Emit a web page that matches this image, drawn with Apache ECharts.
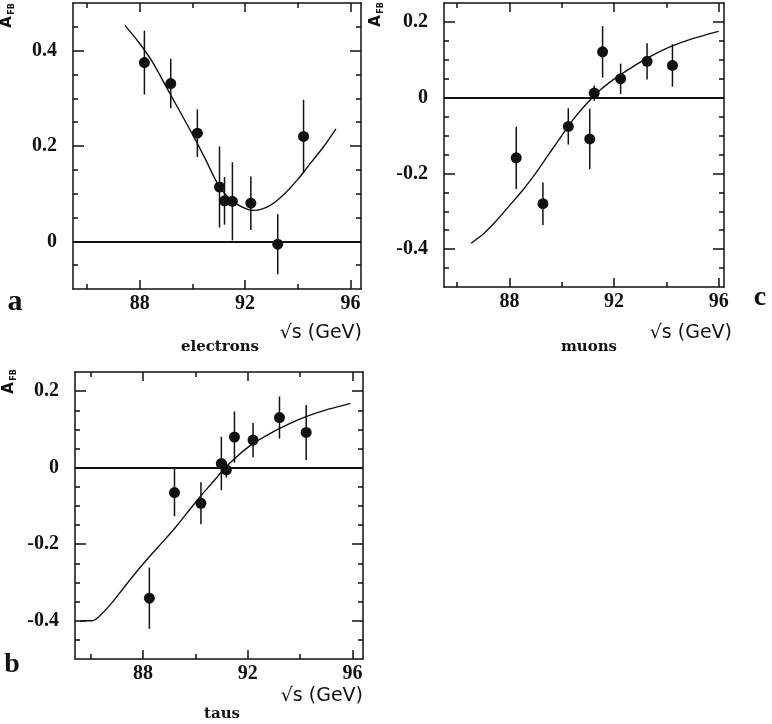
<!DOCTYPE html>
<html>
<head>
<meta charset="utf-8">
<script src="https://cdn.jsdelivr.net/npm/echarts@6/dist/echarts.min.js"></script>
<style>html,body{margin:0;padding:0;background:#fff}#c{width:772px;height:724px}</style>
</head>
<body>
<div id="c"></div>
<script>
// ---------- data ----------
// electrons (panel a)
const eX   = [88.18, 89.18, 90.19, 91.03, 91.22, 91.52, 92.22, 93.24, 94.22];
const eY   = [0.375, 0.331, 0.227, 0.114, 0.085, 0.084, 0.080, -0.006, 0.220];
const eErr = [0.067, 0.052, 0.050, 0.085, 0.050, 0.082, 0.056, 0.063, 0.077];
const eCurveX = [87.44, 88.0, 88.5, 89.0, 89.5, 90.0, 90.5, 91.0, 91.5, 92.0, 92.3, 92.6, 93.0, 93.5, 94.0, 94.5, 95.0, 95.45];
const eCurveY = [0.453, 0.415, 0.375, 0.325, 0.275, 0.225, 0.172, 0.117, 0.085, 0.069, 0.065, 0.067, 0.077, 0.100, 0.130, 0.165, 0.200, 0.236];

// muons (panel c)
const mX   = [88.26, 89.28, 90.25, 91.07, 91.24, 91.56, 92.25, 93.26, 94.23];
const mY   = [-0.159, -0.280, -0.076, -0.109, 0.012, 0.121, 0.050, 0.096, 0.085];
const mErr = [0.082, 0.056, 0.048, 0.080, 0.020, 0.068, 0.040, 0.048, 0.056];
const mCurveX = [86.54, 87.0, 87.5, 88.0, 88.5, 89.0, 89.5, 90.0, 90.5, 91.0, 91.5, 92.0, 92.5, 93.0, 93.5, 94.0, 94.5, 95.0, 95.5, 96.0];
const mCurveY = [-0.384, -0.36, -0.325, -0.285, -0.245, -0.200, -0.150, -0.100, -0.052, -0.012, 0.022, 0.049, 0.072, 0.094, 0.113, 0.130, 0.144, 0.156, 0.166, 0.175];

// taus (panel b)
const tX   = [88.24, 89.20, 90.21, 90.99, 91.18, 91.49, 92.20, 93.21, 94.23];
const tY   = [-0.341, -0.065, -0.093, 0.011, -0.006, 0.080, 0.072, 0.131, 0.092];
const tErr = [0.080, 0.062, 0.055, 0.070, 0.020, 0.067, 0.045, 0.055, 0.072];
const tCurveX = [85.6, 86.05, 86.3, 86.75, 87.25, 87.75, 88.25, 88.75, 89.25, 89.8, 90.25, 90.75, 91.07, 91.5, 92.0, 92.34, 93.0, 93.62, 94.25, 94.9, 95.5, 95.92];
const tCurveY = [-0.400, -0.400, -0.390, -0.358, -0.315, -0.272, -0.232, -0.194, -0.155, -0.108, -0.070, -0.031, -0.005, 0.024, 0.053, 0.069, 0.095, 0.116, 0.134, 0.149, 0.160, 0.168];

// ticks
const xMinorTicks = [86, 90, 94];
const xMajorTicks = [88, 92, 96];
const xLabels = [88, 92, 96];
const yMinorA = [-0.05, 0.05, 0.1, 0.15, 0.25, 0.3, 0.35, 0.45];
const yMajorA = [0, 0.2, 0.4];
const yLabelsA = [0, 0.2, 0.4];
const yMinorB = [-0.45, -0.35, -0.3, -0.25, -0.15, -0.1, -0.05, 0.05, 0.1, 0.15];
const yMajorB = [-0.4, -0.2, 0, 0.2];
const yLabelsB = [-0.4, -0.2, 0, 0.2];

// ---------- chart ----------
const INK = '#111';
const grids = [
  {left: 73, top: 3, width: 288, height: 286},   // a electrons
  {left: 444, top: 3, width: 280, height: 284},  // c muons
  {left: 75, top: 372, width: 288, height: 287}  // b taus
];
const panels = [
  {x: eX, y: eY, err: eErr, cx: eCurveX, cy: eCurveY, xr: [85.47, 96.4], yr: [-0.1, 0.5], yMin: yMinorA, yMaj: yMajorA, yLab: yLabelsA},
  {x: mX, y: mY, err: mErr, cx: mCurveX, cy: mCurveY, xr: [85.5, 96.2], yr: [-0.5, 0.25], yMin: yMinorB, yMaj: yMajorB, yLab: yLabelsB},
  {x: tX, y: tY, err: tErr, cx: tCurveX, cy: tCurveY, xr: [85.4, 96.4], yr: [-0.5, 0.25], yMin: yMinorB, yMaj: yMajorB, yLab: yLabelsB}
];

const xAxis = [], yAxis = [], series = [];
const lineStyle = {color: INK, width: 1.5};
const labelFont = {color: INK, fontFamily: '"Liberation Serif", serif', fontWeight: 'bold', fontSize: 20};

panels.forEach((p, g) => {
  ['bottom', 'top'].forEach(pos => {
    xAxis.push({gridIndex: g, type: 'value', min: p.xr[0], max: p.xr[1], position: pos,
      axisLine: {show: true, onZero: false, lineStyle},
      axisTick: {show: true, inside: true, length: 5, customValues: xMinorTicks, lineStyle},
      axisLabel: pos === 'bottom' ? Object.assign({show: true, margin: 5, customValues: xLabels}, labelFont) : {show: false},
      splitLine: {show: false}});
    xAxis.push({gridIndex: g, type: 'value', min: p.xr[0], max: p.xr[1], position: pos,
      axisLine: {show: false, onZero: false},
      axisTick: {show: true, inside: true, length: 9, customValues: xMajorTicks, lineStyle},
      axisLabel: {show: false}, splitLine: {show: false}});
  });
  ['left', 'right'].forEach(pos => {
    yAxis.push({gridIndex: g, type: 'value', min: p.yr[0], max: p.yr[1], position: pos,
      axisLine: {show: true, onZero: false, lineStyle},
      axisTick: {show: true, inside: true, length: 5, customValues: p.yMin, lineStyle},
      axisLabel: pos === 'left' ? Object.assign({show: true, margin: 16, customValues: p.yLab}, labelFont) : {show: false},
      splitLine: {show: false}});
    yAxis.push({gridIndex: g, type: 'value', min: p.yr[0], max: p.yr[1], position: pos,
      axisLine: {show: false, onZero: false},
      axisTick: {show: true, inside: true, length: 11, customValues: p.yMaj, lineStyle},
      axisLabel: {show: false}, splitLine: {show: false}});
  });
  const xi = g * 4, yi = g * 4;
  series.push({type: 'line', xAxisIndex: xi, yAxisIndex: yi, smooth: 0.3, symbol: 'none',
    data: p.cx.map((v, i) => [v, p.cy[i]]), lineStyle: {color: INK, width: 1.4}, silent: true, z: 2,
    markLine: {symbol: 'none', silent: true, label: {show: false}, lineStyle: {color: INK, width: 1.8, type: 'solid'},
      data: [{yAxis: 0}]}});
  series.push({type: 'custom', xAxisIndex: xi, yAxisIndex: yi, z: 3,
    data: p.x.map((v, i) => [v, p.y[i], p.err[i]]),
    encode: {x: 0, y: 1},
    renderItem: (params, api) => {
      const x = api.value(0), y = api.value(1), e = api.value(2);
      const a = api.coord([x, y + e]), b = api.coord([x, y - e]);
      return {type: 'line', shape: {x1: a[0], y1: a[1], x2: b[0], y2: b[1]}, style: {stroke: INK, lineWidth: 1.5}};
    }});
  series.push({type: 'scatter', xAxisIndex: xi, yAxisIndex: yi, z: 4, symbol: 'circle', symbolSize: 11,
    itemStyle: {color: INK, opacity: 1}, data: p.x.map((v, i) => [v, p.y[i]])});
});

function txt(x, y, text, font, align, rot) {
  return {type: 'text', x, y, rotation: rot || 0, z: 10,
    style: {text, font, fill: INK, align: align || 'center', verticalAlign: 'middle'}};
}
const letterFont = 'bold 30px "Liberation Serif", serif';
const axisTitleFont = '19px "DejaVu Sans", sans-serif';
const nameFont = 'bold 15px "DejaVu Serif", serif';
const graphic = [
  // panel a
  txt(15, 302, 'a', letterFont),
  txt(362, 333, '\u221As (GeV)', axisTitleFont, 'right'),
  txt(220, 347, 'electrons', nameFont),
  txt(7, 22, 'A', 'bold 15px "DejaVu Sans", sans-serif', 'center', Math.PI / 2),
  txt(12, 9, 'FB', 'bold 8px "DejaVu Sans", sans-serif', 'center', Math.PI / 2),
  // panel c
  txt(760, 298, 'c', 'bold 28px "Liberation Serif", serif'),
  txt(732, 333, '\u221As (GeV)', axisTitleFont, 'right'),
  txt(589, 347, 'muons', nameFont),
  txt(376, 21, 'A', 'bold 15px "DejaVu Sans", sans-serif', 'center', Math.PI / 2),
  txt(381, 8, 'FB', 'bold 8px "DejaVu Sans", sans-serif', 'center', Math.PI / 2),
  // panel b
  txt(12, 665, 'b', 'bold 28px "Liberation Serif", serif'),
  txt(363, 696, '\u221As (GeV)', axisTitleFont, 'right'),
  txt(222, 714, 'taus', nameFont),
  txt(9, 388, 'A', 'bold 15px "DejaVu Sans", sans-serif', 'center', Math.PI / 2),
  txt(14, 375, 'FB', 'bold 8px "DejaVu Sans", sans-serif', 'center', Math.PI / 2)
];

const chart = echarts.init(document.getElementById('c'), null, {renderer: 'canvas'});
chart.setOption({
  backgroundColor: '#fff',
  animation: false,
  grid: grids,
  xAxis, yAxis, series, graphic
});
</script>
</body>
</html>
